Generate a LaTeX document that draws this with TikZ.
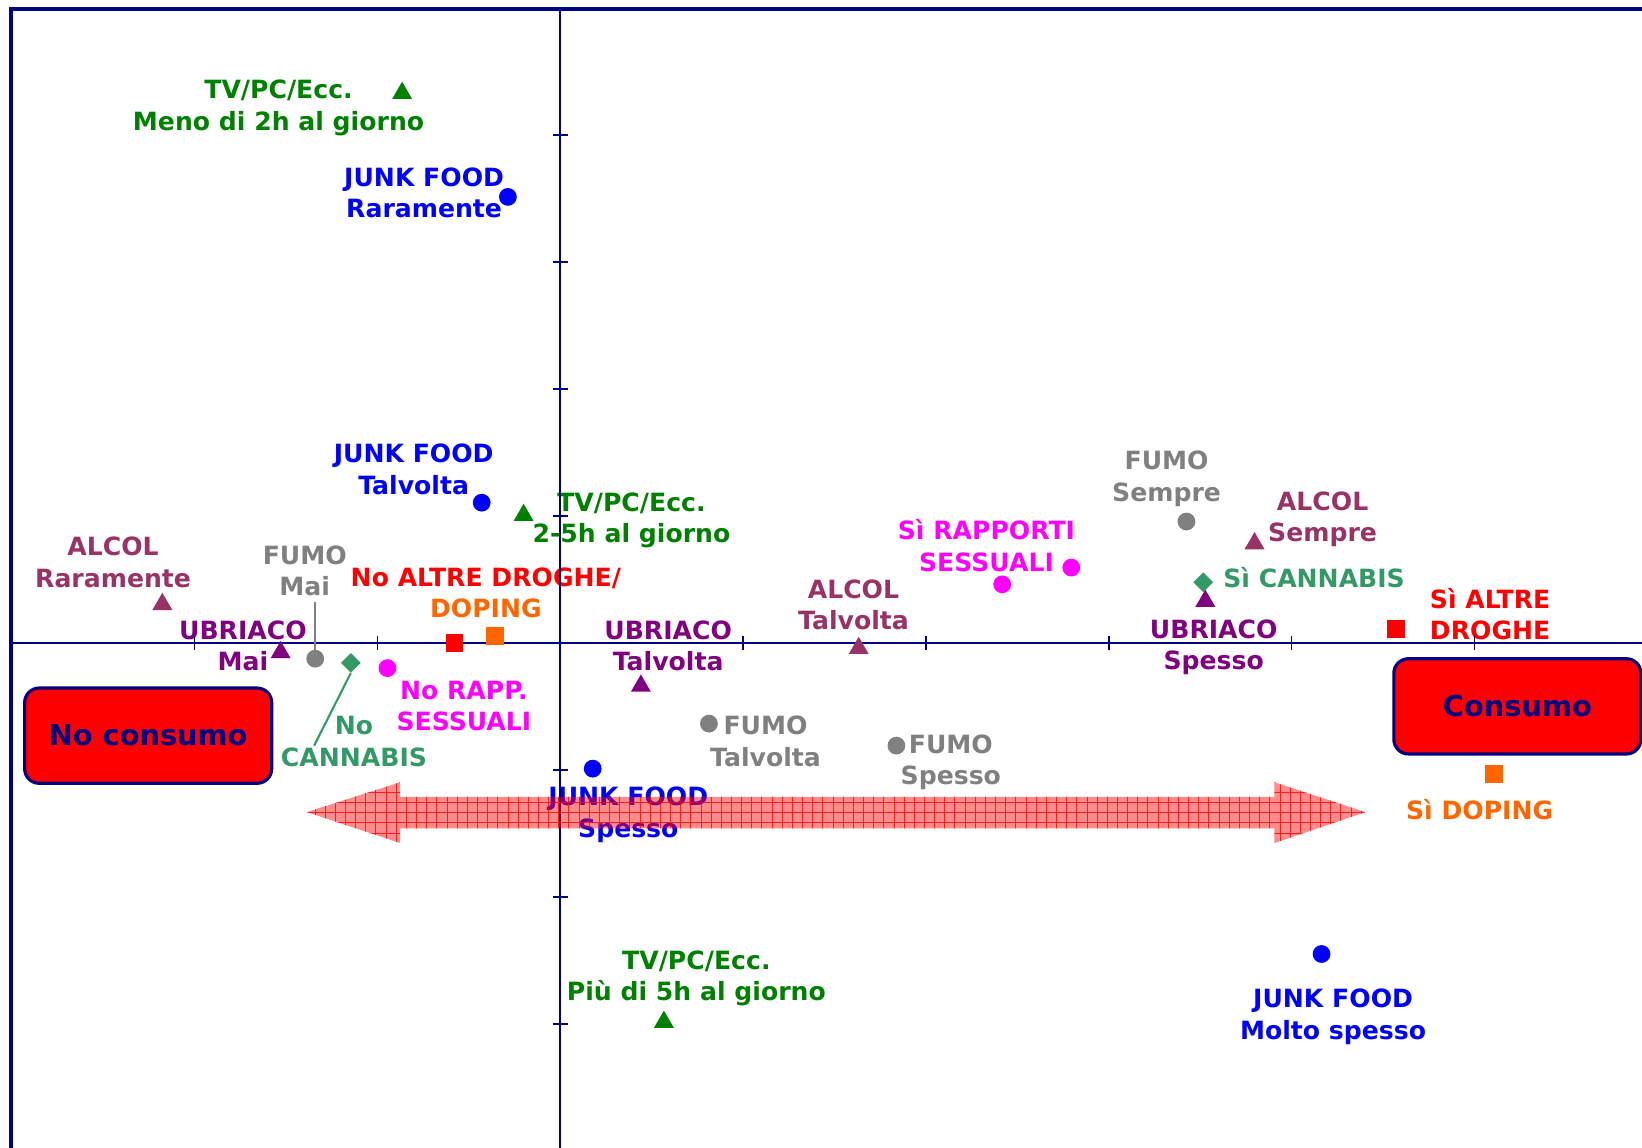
\documentclass[tikz,border=0pt]{standalone}
\usepackage{fontspec}
\setmainfont{DejaVu Sans}
\usetikzlibrary{shapes.geometric}
\definecolor{navyc}{HTML}{000080}
\definecolor{grn}{HTML}{008000}
\definecolor{blu}{HTML}{0000FF}
\definecolor{alc}{HTML}{993366}
\definecolor{pur}{HTML}{800080}
\definecolor{gry}{HTML}{808080}
\definecolor{cann}{HTML}{339966}
\definecolor{mag}{HTML}{FF00FF}
\definecolor{rd}{HTML}{FF0000}
\definecolor{org}{HTML}{FF6600}
\begin{document}
\begin{tikzpicture}[x=1pt,y=-1pt,
  lbl/.style={font=\fontsize{24}{30}\selectfont\bfseries, align=center, inner sep=0pt},
  mkdot/.style={circle, fill=#1, inner sep=0pt, minimum size=17pt},
  mktri/.style={regular polygon, regular polygon sides=3, fill=#1, inner sep=0pt, minimum size=22pt, yshift=-3pt},
  mksq/.style={rectangle, fill=#1, inner sep=0pt, minimum size=17pt},
  mkdia/.style={diamond, fill=#1, inner sep=0pt, minimum width=19pt, minimum height=19pt},
  axisline/.style={navyc, line width=1.5pt},
  boxstyle/.style={draw=navyc, line width=3pt, fill=rd, rounded corners=14pt, text=navyc,
     font=\fontsize{27.5}{32}\selectfont\bfseries, minimum width=236pt, minimum height=91pt, inner sep=0pt},
  leader/.style={line width=2pt}
]
\useasboundingbox (0,0) rectangle (1568,1096);

% ---------- labels ----------
\node[lbl, text=grn] (tvAl) at (266,103) {TV/PC/Ecc.\\Meno di 2h al giorno};
\node[lbl, text=blu] (jfRl) at (405,184) {JUNK FOOD\\Raramente};
\node[lbl, text=blu] (jfTl) at (395,448) {JUNK FOOD\\Talvolta};
\node[lbl, text=grn] (tvBl) at (603,497) {TV/PC/Ecc.\\2-5h al giorno};
\node[lbl, text=alc] (alRl) at (108,537) {ALCOL\\Raramente};
\node[lbl, text=gry] (fuMl) at (291,545) {FUMO\\Mai};
\node[lbl, text=pur] (ubMl) at (232,616.5) {UBRIACO\\Mai};
\node[lbl, text=cann] (noCl) at (338,708) {No\\CANNABIS};
\node[lbl, text=mag] (noRl) at (443,674) {No RAPP.\\SESSUALI};
\node[lbl] (noAl) at (464,566) {{\color{rd}No ALTRE DROGHE/}\\{\color{org}DOPING}};
\node[lbl, text=pur] (ubTl) at (638,616.5) {UBRIACO\\Talvolta};
\node[lbl, text=gry] (fuTl) at (731,708) {FUMO\\Talvolta};
\node[lbl, text=gry] (fuSl) at (908,728) {FUMO\\Spesso};
\node[lbl, text=blu] (jfSl) at (600,778) {JUNK FOOD\\Spesso};
\node[lbl, text=grn] (tvCl) at (665,934) {TV/PC/Ecc.\\Più di 5h al giorno};
\node[lbl, text=blu] (jfMl) at (1273,971) {JUNK FOOD\\Molto spesso};
\node[lbl, text=alc] (alTl) at (815,577.5) {ALCOL\\Talvolta};
\node[lbl, text=mag] (siRl) at (942,521) {Sì RAPPORTI\\SESSUALI};
\node[lbl, text=gry] (fuEl) at (1114,457) {FUMO\\Sempre};
\node[lbl, text=alc] (alSl) at (1263,496) {ALCOL\\Sempre};
\node[lbl, text=cann, anchor=west] (siCl) at (1168,552) {Sì CANNABIS};
\node[lbl, text=pur] (ubSl) at (1159,618) {UBRIACO\\Spesso};
\node[lbl, text=rd] (siAl) at (1423,586.5) {Sì ALTRE\\DROGHE};
\node[lbl, text=org] (siDl) at (1413,773) {Sì DOPING};

% ---------- frame and axes ----------
\draw[navyc, line width=3.5pt] (10.5,1100) -- (10.5,8.5) -- (1575,8.5);
\draw[axisline] (535,8.5) -- (535,1100);
\draw[axisline] (10.5,614) -- (1575,614);
\foreach \k in {-2,-1,1,2,3,4,5,6}
  \draw[axisline] ({535+174.6*\k},607) -- ({535+174.6*\k},621);
\foreach \k in {-4,-3,-2,-1,1,2,3}
  \draw[axisline] (528,{614+121.3*\k}) -- (542,{614+121.3*\k});

% ---------- markers ----------
\node[mktri=grn] (tvA) at (384,86) {};
\node[mkdot=blu] (jfR) at (485,188) {};
\node[mkdot=blu] (jfT) at (460,480) {};
\node[mktri=grn] (tvB) at (500,489) {};
\node[mktri=alc] (alR) at (155,574) {};
\node[mkdot=gry] (fuM) at (301,629) {};
\node[mktri=pur] (ubM) at (268,620) {};
\node[mkdia=cann] (noC) at (335,633) {};
\node[mkdot=mag] (noR) at (370,638) {};
\node[mksq=rd] (noA) at (434,614) {};
\node[mksq=org] (noD) at (473,607) {};
\node[mktri=pur] (ubT) at (612,652) {};
\node[mkdot=gry] (fuT) at (677,691) {};
\node[mkdot=gry] (fuS) at (856,712) {};
\node[mkdot=blu] (jfS) at (566,734) {};
\node[mktri=grn] (tvC) at (634,973) {};
\node[mkdot=blu] (jfM) at (1262,911) {};
\node[mktri=alc] (alT) at (820,616) {};
\node[mkdot=mag] (siR) at (957,558) {};
\node[mkdot=mag] (siRb) at (1023,542) {};
\node[mkdot=gry] (fuE) at (1133,498) {};
\node[mktri=alc] (alS) at (1198,516) {};
\node[mkdia=cann] (siC) at (1149,556) {};
\node[mktri=pur] (ubS) at (1151,571) {};
\node[mksq=rd] (siA) at (1333,601) {};
\node[mksq=org] (siD) at (1427,739) {};

% ---------- leader lines ----------
\coordinate (fuMtop) at (301,575);
\coordinate (cannEnd) at (300,712);
\draw[leader, gry] (fuMtop) -- (fuM.north);
\draw[leader, cann] (noC.south) -- (cannEnd);

% ---------- boxes ----------
\node[boxstyle] (noCons) at (141.5,702.5) {No consumo};
\node[boxstyle] (cons) at (1449,674.5) {Consumo};

% ---------- big double arrow ----------
\begin{scope}
  \clip (293,775.5) -- (382,747) -- (382,761) -- (1217,761) -- (1217,747) -- (1304,775.5)
        -- (1217,805) -- (1217,791) -- (382,791) -- (382,805) -- cycle;
  \fill[rd, opacity=0.45] (280,740) rectangle (1320,812);
  \draw[rd, line width=0.7pt, opacity=0.8, step=9.7pt] (280,812) grid (1320,740);
\end{scope}
\end{tikzpicture}
\end{document}
